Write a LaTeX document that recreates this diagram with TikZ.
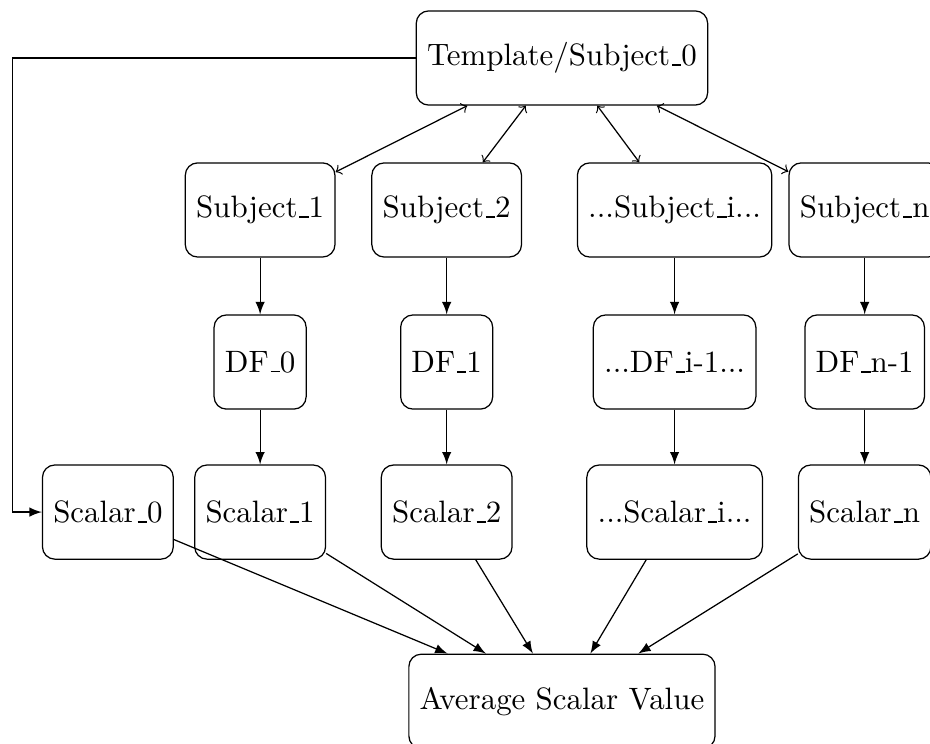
\documentclass[tikz,border=0pt]{standalone}
\usepackage{tikz}
\usetikzlibrary{positioning,calc}
\newcommand{\usc}{\leavevmode\kern.06em\vbox{\hrule width.3em}}
\tikzset{
  box/.style={draw=black,rounded corners=4pt,minimum height=1.07cm,inner sep=3.5pt},
  link/.style={draw=black,<->},
  flow/.style={draw=black,-latex},
}

\begin{document}
\begin{tikzpicture}[scale=1]
\clip (-6.386,0.659) rectangle (4.182,-7.795);
\node[box] (template) at (0,0) {Template/Subject\usc0};
\node[box] (subj1) at (-3.43,-1.727) {Subject\usc1};
\node[box] (subj2) at (-1.31,-1.727) {Subject\usc2};
\node[box] (subji) at (1.28,-1.727) {...Subject\usc i...};
\node[box] (subjn) at (3.44,-1.727) {Subject\usc n};
\node[box] (df0) at (-3.43,-3.455) {DF\usc0};
\node[box] (df1) at (-1.31,-3.455) {DF\usc1};
\node[box] (dfi) at (1.28,-3.455) {...DF\usc i-1...};
\node[box] (dfn) at (3.44,-3.455) {DF\usc n-1};
\node[box] (scal0) at (-5.16,-5.16) {Scalar\usc0};
\node[box] (scal1) at (-3.43,-5.16) {Scalar\usc1};
\node[box] (scal2) at (-1.31,-5.16) {Scalar\usc2};
\node[box] (scali) at (1.28,-5.16) {...Scalar\usc i...};
\node[box] (scaln) at (3.44,-5.16) {Scalar\usc n};
\node[box] (avg) at (0,-7.31) {Average Scalar Value};
\coordinate (bend) at (-6.24,0);
\draw[link] (template) -- (subj1);
\draw[link] (template) -- (subj2);
\draw[link] (template) -- (subji);
\draw[link] (template) -- (subjn);
\draw[flow] (subj1) -- (df0);
\draw[flow] (subj2) -- (df1);
\draw[flow] (subji) -- (dfi);
\draw[flow] (subjn) -- (dfn);
\draw[flow] (df0) -- (scal1);
\draw[flow] (df1) -- (scal2);
\draw[flow] (dfi) -- (scali);
\draw[flow] (dfn) -- (scaln);
\draw[flow] (template.west) -- (bend) |- (scal0.west);
\draw[flow] (scal0) -- (avg);
\draw[flow] (scal1) -- (avg);
\draw[flow] (scal2) -- (avg);
\draw[flow] (scali) -- (avg);
\draw[flow] (scaln) -- (avg);
\end{tikzpicture}
\end{document}
